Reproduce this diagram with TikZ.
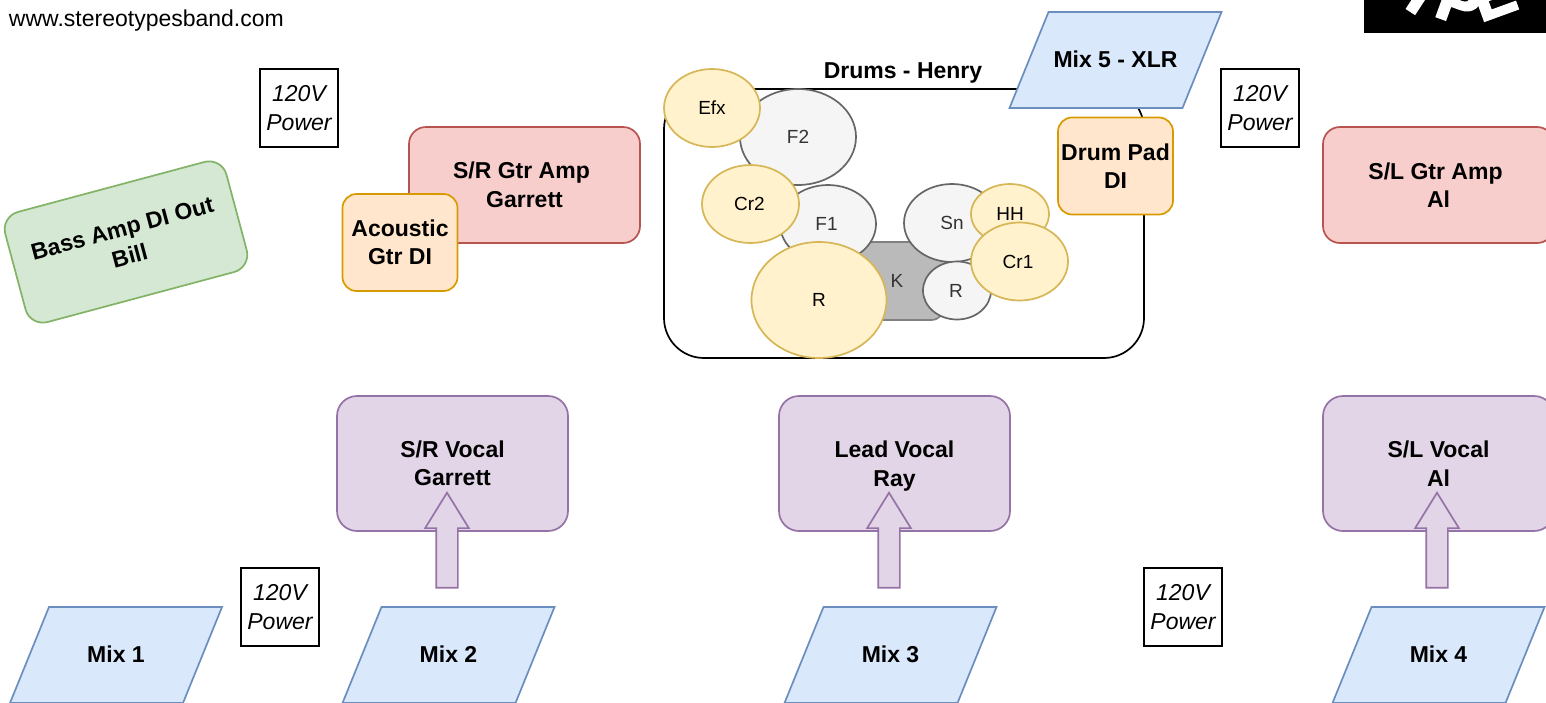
\documentclass[tikz,border=0pt]{standalone}
\usepackage{fontspec}
\setmainfont{Liberation Sans}
\newfontfamily\logoface[BoldFont={Liberation Sans Bold},BoldFeatures={FakeBold=4}]{Liberation Sans}
\usetikzlibrary{shapes.geometric,shapes.arrows}
\definecolor{blueF}{HTML}{DAE8FC}\definecolor{blueD}{HTML}{6C8EBF}
\definecolor{redF}{HTML}{F8CECC}\definecolor{redD}{HTML}{B85450}
\definecolor{greenF}{HTML}{D5E8D4}\definecolor{greenD}{HTML}{82B366}
\definecolor{purpF}{HTML}{E1D5E7}\definecolor{purpD}{HTML}{9673A6}
\definecolor{orF}{HTML}{FFE6CC}\definecolor{orD}{HTML}{D79B00}
\definecolor{yelF}{HTML}{FFF2CC}\definecolor{yelD}{HTML}{D6B656}
\definecolor{grayF}{HTML}{F5F5F5}\definecolor{grayD}{HTML}{666666}
\definecolor{kF}{HTML}{BABABA}\definecolor{kD}{HTML}{808080}
\definecolor{grayT}{HTML}{333333}
\tikzset{
  every node/.style={inner sep=0pt,outer sep=0pt,align=center},
  lab/.style={font=\fontsize{23}{28.5}\selectfont\bfseries},
  box/.style={draw,line width=1.7pt,rectangle,rounded corners=#1,lab},
  gtr/.style={box=17pt,fill=redF,draw=redD,minimum width=231pt,minimum height=116pt},
  bass/.style={box=18pt,fill=greenF,draw=greenD,minimum width=229pt,minimum height=114pt},
  voc/.style={box=20pt,fill=purpF,draw=purpD,minimum width=231pt,minimum height=135pt},
  di/.style={box=14pt,fill=orF,draw=orD,minimum width=115pt,minimum height=97pt},
  mixshape/.style={draw=blueD,fill=blueF,line width=1.7pt},
  mixlab/.style={lab},
  pow/.style={draw=black,line width=1.1pt,minimum width=78pt,minimum height=78pt,font=\fontsize{23}{28.5}\selectfont\itshape},
  drum/.style={ellipse,draw=grayD,fill=grayF,text=grayT,line width=1.7pt,font=\fontsize{19}{23}\selectfont},
  cym/.style={ellipse,draw=yelD,fill=yelF,text=black,line width=1.7pt,font=\fontsize{19}{23}\selectfont},
  blockup/.style={single arrow,draw=purpD,fill=purpF,line width=1.7pt,inner sep=10pt,shape border rotate=90,minimum height=95pt,minimum width=42pt,single arrow head extend=11pt,single arrow tip angle=63.4,single arrow head indent=0pt},
  logo/.style={text=white,font=\fontsize{62}{62}\logoface\selectfont\bfseries},
}
\newcommand{\mixbox}[4]{%
  \draw[mixshape,shift={(#2,#3)}] (-67,-48) -- (106,-48) -- (67,48) -- (-106,48) -- cycle;
  \node[mixlab] (#1) at (#2,#3-1) {#4};
}
\begin{document}
\begin{tikzpicture}[x=1pt,y=-1pt]
\useasboundingbox (0,0) rectangle (1546,702);
\clip (0,0) rectangle (1546,702);
\fill[white] (0,0) rectangle (1546,702);
% logo
\begin{scope}
\clip (1364,0) rectangle (1546,33);
\fill[black] (1364,0) rectangle (1546,33);
\node[logo,rotate=-33,anchor=south] (logoY) at (1411,11) {Y};
\node[logo,rotate=-20,anchor=south west] (logoP) at (1433,15) {P};
\node[logo,rotate=20,anchor=south west] (logoE) at (1481,22) {E};
\end{scope}
\node[anchor=west,font=\fontsize{23}{28}\selectfont] (url) at (9,21) {www.stereotypesband.com};
% amps
\node[bass,rotate=15] (bass) at (126,242) {Bass Amp DI Out\\Bill};
\node[pow] (p1) at (299,108) {120V\\Power};
\node[pow] (p2) at (1260,108) {120V\\Power};
\node[pow] (p3) at (280,607) {120V\\Power};
\node[pow] (p4) at (1183,607) {120V\\Power};
\node[gtr] (srgtr) at (524.5,185) {S/R Gtr Amp\hspace*{6pt}\\Garrett};
\node[di] (acou) at (400,242.5) {Acoustic\\Gtr DI};
\node[gtr] (slgtr) at (1438.5,185) {S/L Gtr Amp\hspace*{6pt}\\Al};
% drums
\node[box=40pt,draw=black,fill=white,minimum width=480pt,minimum height=269pt] (kit) at (904,223.5) {};
\node[lab] (kittitle) at (903,73) {Drums - Henry};
\node[drum,minimum width=116pt,minimum height=96pt] (f2) at (798,137) {F2};
\node[box=14pt,fill=kF,draw=kD,font=\fontsize{19}{23}\selectfont\mdseries,text=grayT,minimum width=96pt,minimum height=78pt] (k) at (897,281) {K};
\node[drum,minimum width=96pt,minimum height=78pt] (f1) at (828,224) {F1\hspace*{3pt}};
\node[drum,minimum width=96pt,minimum height=78pt] (sn) at (952,223) {Sn};
\node[drum,minimum width=68pt,minimum height=58pt] (rs) at (957,290.5) {R\hspace*{2pt}};
\node[cym,minimum width=78pt,minimum height=60pt] (hh) at (1010,214) {HH};
\node[cym,minimum width=97pt,minimum height=78pt] (cr1) at (1019.5,261.5) {Cr1\hspace*{3pt}};
\node[cym,minimum width=97pt,minimum height=78pt] (cr2) at (750.5,204) {Cr2\hspace*{2pt}};
\node[cym,minimum width=96pt,minimum height=78pt] (efx) at (712,108) {Efx};
\node[cym,minimum width=135pt,minimum height=116pt] (rl) at (819,300) {R};
\mixbox{m5}{1115.5}{60}{Mix 5 - XLR}
\node[di] (pad) at (1115.5,166) {Drum Pad\\DI};
% vocals
\node[voc] (vr) at (452.5,463.5) {S/R Vocal\\Garrett};
\node[voc] (vc) at (894.5,463.5) {Lead Vocal\\\smash{Ray}};
\node[voc] (vl) at (1438.5,463.5) {S/L Vocal\\Al};
% mixes
\mixbox{m1}{116}{655}{Mix 1}
\mixbox{m2}{448.5}{655}{Mix 2}
\mixbox{m3}{890.5}{655}{Mix 3}
\mixbox{m4}{1438.5}{655}{Mix 4}
% monitor arrows
\node[blockup] (a2) at (447,549) {};
\node[blockup] (a3) at (889,549) {};
\node[blockup] (a4) at (1437,549) {};
\end{tikzpicture}
\end{document}
